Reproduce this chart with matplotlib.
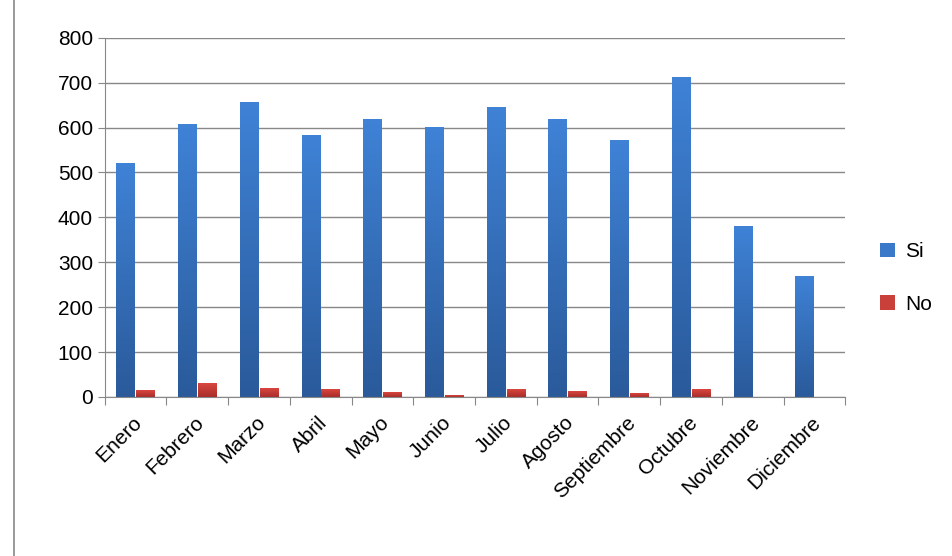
import numpy as np
import matplotlib
matplotlib.use("Agg")
import matplotlib.pyplot as plt
from matplotlib.colors import LinearSegmentedColormap
from matplotlib.patches import Rectangle, Patch

months = ["Enero", "Febrero", "Marzo", "Abril", "Mayo", "Junio", "Julio",
          "Agosto", "Septiembre", "Octubre", "Noviembre", "Diciembre"]
si = [519, 608, 655, 583, 617, 600, 644, 617, 572, 712, 380, 269]
no = [14, 30, 18, 16, 10, 3, 16, 13, 7, 16, 0, 0]

plt.rcParams["font.family"] = ["Liberation Sans", "DejaVu Sans"]
fig = plt.figure(figsize=(9.52, 5.56), dpi=100)
ax = fig.add_axes([0.110, 0.286, 0.778, 0.646])

blue_cm = LinearSegmentedColormap.from_list("b", ["#2A5A9A", "#3F82D6"])
red_cm = LinearSegmentedColormap.from_list("r", ["#A92D2A", "#D9463F"])
grad = np.linspace(0, 1, 256).reshape(-1, 1)

x = np.arange(len(months))
w = 0.3
for xi, s, n in zip(x, si, no):
    for left, h, cm in [(xi - w - 0.01, s, blue_cm), (xi + 0.01, n, red_cm)]:
        if h <= 0:
            continue
        ax.imshow(grad, cmap=cm, origin="lower", aspect="auto",
                  extent=(left, left + w, 0, h), zorder=2)

ax.set_xlim(-0.5, len(months) - 0.5)
ax.set_ylim(0, 800)
ax.set_yticks(range(0, 801, 100))
ax.yaxis.grid(True, color="#888888", linewidth=1)
ax.set_axisbelow(True)
for side in ["top", "right"]:
    ax.spines[side].set_visible(False)
for side in ["left", "bottom"]:
    ax.spines[side].set_color("#888888")
ax.set_xticks(np.arange(-0.5, len(months), 1), minor=False)
ax.set_xticklabels([])
ax.tick_params(axis="x", length=6, color="#888888")
ax.tick_params(axis="y", length=5, color="#888888", labelsize=15)
for xi, m in zip(x, months):
    ax.text(xi - 0.05, -35, m, rotation=45, ha="right", va="top", fontsize=15,
            rotation_mode="anchor")

handles = [Patch(facecolor="#3A78C9", label="Si"), Patch(facecolor="#C9403A", label="No")]
fig.legend(handles=handles, loc="center left", bbox_to_anchor=(0.905, 0.50),
           frameon=False, fontsize=15, handlelength=0.7, handleheight=0.7,
           labelspacing=1.6, handletextpad=0.5)

fig.patches.append(Rectangle((0.015, -0.01), 1.0, 1.02, transform=fig.transFigure,
                             fill=False, edgecolor="#888888", linewidth=1.2))
fig.savefig("out.png", dpi=100)
